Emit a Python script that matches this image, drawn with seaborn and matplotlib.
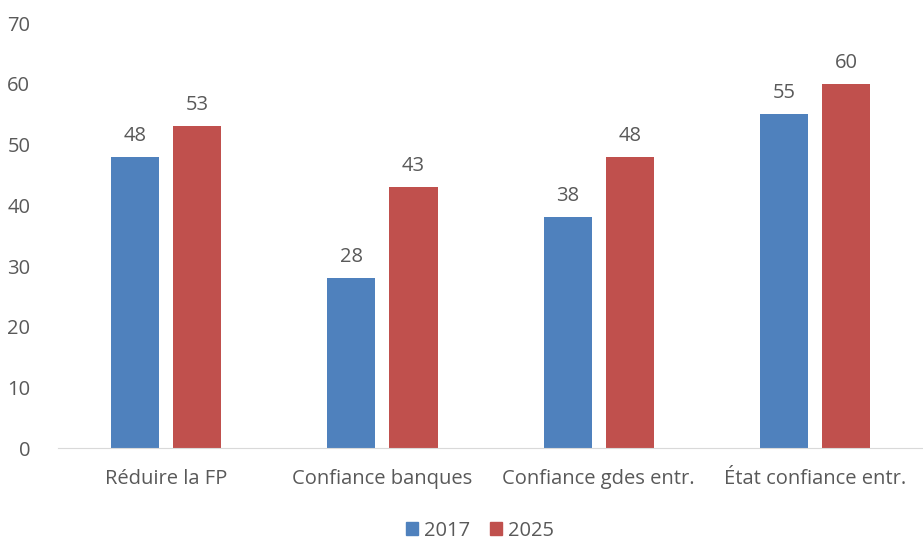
import pandas as pd
import matplotlib
matplotlib.use('Agg')
import matplotlib.pyplot as plt
import seaborn as sns

categories = ['Réduire la FP', 'Confiance banques', 'Confiance gdes entr.', 'État confiance entr.']
values_2017 = [48, 28, 38, 55]
values_2025 = [53, 43, 48, 60]
years = ['2017', '2025']
colors = ['#4F81BD', '#C0504D']

df = pd.DataFrame({
    'Catégorie': categories * 2,
    'Valeur': values_2017 + values_2025,
    'Année': [years[0]] * 4 + [years[1]] * 4,
})

sns.set_style('white')
plt.rcParams['font.family'] = ['Open Sans', 'DejaVu Sans']
text_color = '#595959'
fs = 14.5

fig = plt.figure(figsize=(9.23, 5.4), dpi=100)
ax = fig.add_axes([0.063, 0.17, 0.937, 0.787])
sns.barplot(data=df, x='Catégorie', y='Valeur', hue='Année', palette=colors,
            width=0.574, gap=0.226, saturation=1, linewidth=0, ax=ax, legend=False)

for container in ax.containers:
    ax.bar_label(container, padding=8, fontsize=fs, color=text_color)

ax.set_ylim(0, 70)
ax.set_xlim(-0.5, 3.5)
ax.set_yticks(range(0, 71, 10))
ax.set_xlabel('')
ax.set_ylabel('')
ax.tick_params(axis='both', length=0, labelsize=fs, colors=text_color)
ax.tick_params(axis='x', pad=15)
ax.tick_params(axis='y', pad=20)
for s in ['top', 'right', 'left']:
    ax.spines[s].set_visible(False)
ax.spines['bottom'].set_color('#D9D9D9')

handles = [plt.Rectangle((0, 0), 1, 1, color=c) for c in colors]
fig.legend(handles, years, loc='lower center', bbox_to_anchor=(0.52, -0.035), ncol=2,
           frameon=False, fontsize=fs, handlelength=0.6, handleheight=0.6,
           handletextpad=0.3, columnspacing=1.0, labelcolor=text_color)

fig.savefig('out.png', dpi=100)
